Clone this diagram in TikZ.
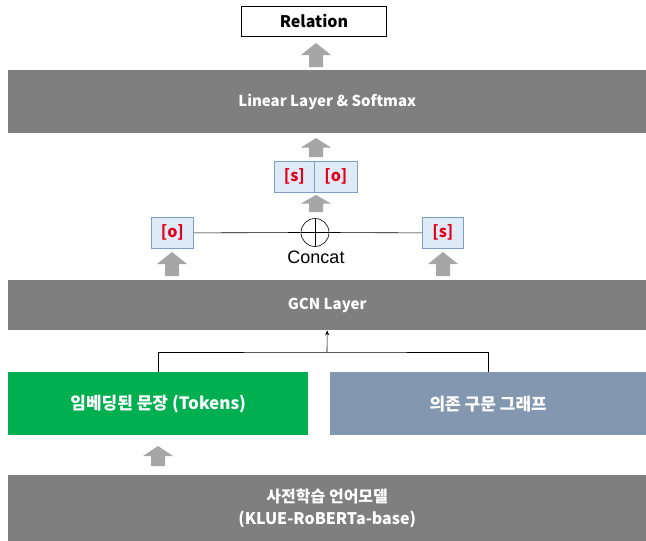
\documentclass[tikz,border=0pt]{standalone}
\usepackage{fontspec}
\setmainfont{Noto Sans CJK KR}
\newfontfamily\arialf{Liberation Sans}
\usetikzlibrary{arrows.meta}
\definecolor{boxgray}{HTML}{7F7F7F}
\definecolor{arrgray}{HTML}{A6A6A6}
\definecolor{tokfill}{HTML}{DEEBF7}
\definecolor{tokline}{HTML}{7F9DC4}
\definecolor{tokred}{HTML}{E3001B}
\definecolor{embgreen}{HTML}{00B050}
\definecolor{depblue}{HTML}{8497B0}
\tikzset{
  layerbox/.style={rectangle, fill=boxgray, draw=none, inner sep=0pt, anchor=north west, text=white, font=\bfseries\fontsize{15}{20}\selectfont, align=center},
  tokbox/.style={rectangle, fill=tokfill, draw=tokline, line width=0.8pt, inner sep=0pt, anchor=north west, text=tokred, font=\bfseries\fontsize{16}{18}\selectfont},
  outbox/.style={rectangle, fill=white, draw=black, line width=0.9pt, inner sep=0pt, anchor=north west, font=\bfseries\fontsize{16}{18}\selectfont},
  blockarr/.style={fill=arrgray, draw=none},
  thinline/.style={draw=black, line width=0.6pt}
}
% block up-arrow: #1 = center x, #2 = top y, #3 = bottom y
\newcommand{\uparrowblk}[3]{%
  \pgfmathsetmacro{\hy}{#2+(#3-#2)*0.5}%
  \fill[blockarr] (#1-15,\hy) -- (#1,#2) -- (#1+15,\hy) -- (#1+7,\hy) -- (#1+7,#3) -- (#1-7,#3) -- (#1-7,\hy) -- cycle;}
\begin{document}
\begin{tikzpicture}[x=1pt,y=-1pt]
\useasboundingbox (0,0) rectangle (646,541);
% output
\node[outbox, minimum width=145pt, minimum height=30pt] (rel) at (241,6) {Relation};
\uparrowblk{316}{43}{67}
\node[layerbox, minimum width=638pt, minimum height=63pt] (lin) at (8,70) {Linear Layer \& Softmax};
\uparrowblk{316}{138}{157}
\node[tokbox, minimum width=40pt, minimum height=31pt] (cs) at (274,161) {[s]};
\node[tokbox, minimum width=43pt, minimum height=31pt] (co) at (314,161) {[o]};
\uparrowblk{316}{195}{212}
% concat row
\node[tokbox, minimum width=42pt, minimum height=31pt] (lo) at (151,217) {[o]};
\node[tokbox, minimum width=41pt, minimum height=31pt] (rs) at (422,217) {[s]};
\node[circle, draw=black, line width=0.6pt, minimum size=28pt, inner sep=0pt,
  path picture={\draw[line width=0.6pt] (path picture bounding box.north) -- (path picture bounding box.south)
  (path picture bounding box.west) -- (path picture bounding box.east);}] (cc) at (315,232.5) {};
\node[font=\arialf\fontsize{18}{20}\selectfont, inner sep=0pt] (ct) at (316,257) {Concat};
\draw[thinline] (lo.east) -- (cc.west);
\draw[thinline] (cc.east) -- (rs.west);
\uparrowblk{172}{252}{276}
\uparrowblk{443}{252}{276}
% GCN
\node[layerbox, minimum width=638pt, minimum height=50pt] (gcn) at (8,280) {GCN Layer};
% inputs
\node[layerbox, fill=embgreen, minimum width=300pt, minimum height=63pt, font=\bfseries\fontsize{17}{20}\selectfont] (emb) at (8,372) {임베딩된 문장 (Tokens)};
\node[layerbox, fill=depblue, minimum width=316pt, minimum height=63pt, font=\bfseries\fontsize{17}{20}\selectfont] (dep) at (330,372) {의존 구문 그래프};
\coordinate (j) at (327,352);
\draw[thinline] (emb.north) |- (j) -| (dep.north);
\draw[thinline, -{Stealth[length=5pt,width=4pt]}] (j) -- (gcn.south);
\uparrowblk{158}{446}{466}
\node[layerbox, minimum width=638pt, minimum height=66pt, font=\bfseries\fontsize{16}{22}\selectfont] (plm) at (8,475) {사전학습 언어모델\\(KLUE-RoBERTa-base)};
\end{tikzpicture}
\end{document}
